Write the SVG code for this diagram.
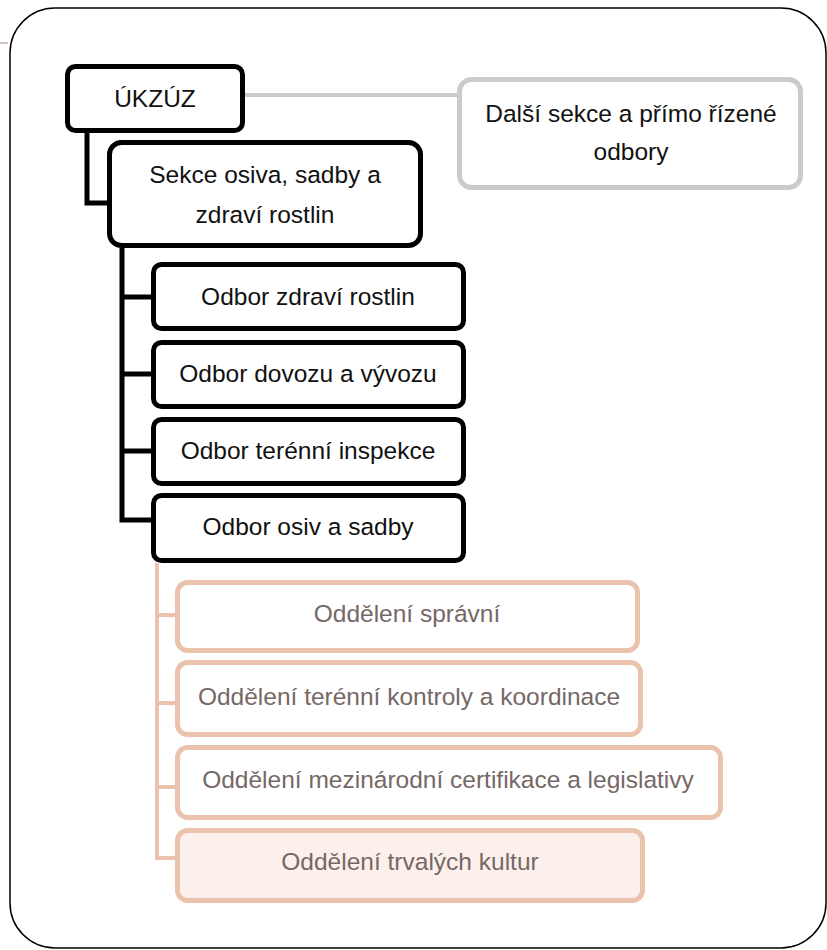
<svg xmlns="http://www.w3.org/2000/svg" width="827" height="950" viewBox="0 0 827 950">
<style>
text{font-family:"Liberation Sans",Arial,sans-serif;font-size:24.5px;text-anchor:middle}
.blk{fill:#fff;stroke:#000;stroke-width:5}
.gry{fill:#fff;stroke:#cbcbcb;stroke-width:5}
.brn{fill:#fff;stroke:#ebc3ad;stroke-width:5}
.t1{fill:#111}
.t2{fill:#756865}
.cb{fill:none;stroke:#000;stroke-width:5}
.cg{fill:none;stroke:#cbcbcb;stroke-width:4}
.cr{fill:none;stroke:#ebc3ad;stroke-width:4}
</style>
<rect x="0" y="0" width="827" height="950" fill="#fff"/>
<line x1="0" y1="43" x2="8" y2="43" stroke="#b08a78" stroke-width="1"/>
<rect x="10" y="8" width="816" height="940" rx="45" fill="none" stroke="#000" stroke-width="1.5"/>
<g id="connectors">
<path class="cg" d="M245 95 H459"/>
<path class="cb" d="M87 133 V203 H108"/>
<path class="cb" d="M122 248 V520 H152 M122 297 H152 M122 374 H152 M122 451 H152"/>
<path class="cr" d="M157 563 V858 H176 M157 615 H176 M157 703 H176 M157 787 H176"/>
</g>
<g id="ukzuz"><rect class="blk" x="67.5" y="66.5" width="175" height="64" rx="8"/><text class="t1" x="155" y="107">ÚKZÚZ</text></g>
<g id="dalsi"><rect class="gry" x="459.5" y="79.5" width="341" height="108" rx="12"/><text class="t1" x="631" y="122">Další sekce a přímo řízené</text><text class="t1" x="631" y="160">odbory</text></g>
<g id="sekce"><rect class="blk" x="109.5" y="142.5" width="311" height="103" rx="12"/><text class="t1" x="265" y="183">Sekce osiva, sadby a</text><text class="t1" x="265" y="223">zdraví rostlin</text></g>
<g id="odbor1"><rect class="blk" x="153.5" y="264.5" width="310" height="64" rx="8"/><text class="t1" x="308" y="305">Odbor zdraví rostlin</text></g>
<g id="odbor2"><rect class="blk" x="153.5" y="342.5" width="310" height="64" rx="8"/><text class="t1" x="308" y="382">Odbor dovozu a vývozu</text></g>
<g id="odbor3"><rect class="blk" x="153.5" y="419.5" width="310" height="64" rx="8"/><text class="t1" x="308" y="459">Odbor terénní inspekce</text></g>
<g id="odbor4"><rect class="blk" x="153.5" y="495.5" width="310" height="65" rx="8"/><text class="t1" x="308" y="535">Odbor osiv a sadby</text></g>
<g id="odd1"><rect class="brn" x="177.5" y="582.5" width="460" height="68" rx="10"/><text class="t2" x="407" y="622">Oddělení správní</text></g>
<g id="odd2"><rect class="brn" x="177.5" y="662.5" width="463" height="72" rx="10"/><text class="t2" x="409" y="705">Oddělení terénní kontroly a koordinace</text></g>
<g id="odd3"><rect class="brn" x="177.5" y="747.5" width="543" height="70" rx="10"/><text class="t2" x="448" y="788">Oddělení mezinárodní certifikace a legislativy</text></g>
<g id="odd4"><rect class="brn" x="177.5" y="830.5" width="465" height="70" rx="10" style="fill:#fbf0ec"/><text class="t2" x="410" y="870">Oddělení trvalých kultur</text></g>
</svg>
